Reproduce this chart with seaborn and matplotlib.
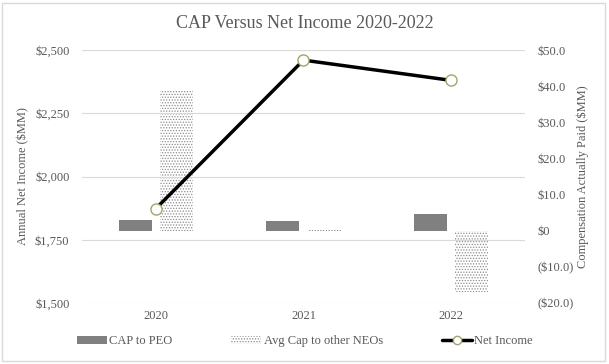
import matplotlib
matplotlib.use("Agg")
import matplotlib.pyplot as plt
import matplotlib.ticker as ticker
from matplotlib.lines import Line2D
from matplotlib.patches import Rectangle
import seaborn as sns
import pandas as pd

#%% Data
anos = ['2020', '2021', '2022']
net_income = [1873, 2460, 2380]
cap_peo = [3.0, 2.8, 4.5]
cap_neos = [38.9, 0.3, -17.0]
series_names = ['CAP to PEO', 'Avg Cap to other NEOs', 'Net Income']

df_cap = pd.DataFrame({
    'ano': anos * 2,
    'valor': cap_peo + cap_neos,
    'serie': [series_names[0]] * 3 + [series_names[1]] * 3,
})
df_ni = pd.DataFrame({'ano': anos, 'valor': net_income})

#%% Style
sns.set_style("white")
plt.rcParams['font.family'] = ['Liberation Serif', 'DejaVu Serif']
plt.rcParams['hatch.linewidth'] = 0.6
cinza_txt = '#595959'

fig = plt.figure(figsize=(6.09, 3.64), dpi=100)
ax = fig.add_axes([0.1346, 0.1676, 0.7274, 0.695])
ax2 = ax.twinx()

# bars on the right axis
sns.barplot(data=df_cap, x='ano', y='valor', hue='serie', order=anos,
            hue_order=series_names[:2], palette=['#808080', 'white'],
            width=0.56, gap=0.2, legend=False, ax=ax2, errorbar=None,
            saturation=1, linewidth=0)
for p in ax2.containers[1]:
    p.set_hatch('......')
    p.set_edgecolor('#8c8c8c')
    p.set_linewidth(0)

# line on the left axis
sns.pointplot(data=df_ni, x='ano', y='valor', order=anos, ax=ax, color='black',
              errorbar=None, markers='o', linestyles='-', linewidth=2.5,
              markersize=8, markerfacecolor='white', markeredgecolor='#a3a36b',
              markeredgewidth=1.0)

ax.set_zorder(ax2.get_zorder() + 1)
ax.patch.set_visible(False)

ax.set_ylim(1500, 2500)
ax.set_yticks([1500, 1750, 2000, 2250, 2500])
ax2.set_ylim(-20, 50)
ax2.set_yticks(range(-20, 51, 10))
ax.set_xlim(-0.5, 2.5)

ax.yaxis.set_major_formatter(ticker.FuncFormatter(lambda x, _: f'${int(x):,}'))
def fmt_dir(x, _):
    if x == 0:
        return '$0'
    if x < 0:
        return f'(${abs(x):.1f})'
    return f'${x:.1f}'
ax2.yaxis.set_major_formatter(ticker.FuncFormatter(fmt_dir))

ax.grid(axis='y', color='#d9d9d9', linewidth=0.8)
ax.grid(axis='x', visible=False)
ax2.grid(False)
for a in (ax, ax2):
    for s in a.spines.values():
        s.set_visible(False)
    a.tick_params(axis='both', length=0, labelsize=9, labelcolor=cinza_txt)
ax.tick_params(axis='y', pad=9)
ax2.tick_params(axis='y', pad=9)
ax.tick_params(axis='x', pad=5)

ax.set_xlabel('')
ax2.set_xlabel('')
ax.set_ylabel('Annual Net Income ($MM)', fontsize=9, color=cinza_txt, labelpad=4)
ax2.set_ylabel('Compensation Actually Paid ($MM)', fontsize=9, color=cinza_txt,
               rotation=90, labelpad=2)

fig.text(0.5, 0.935, 'CAP Versus Net Income 2020-2022', ha='center', va='center',
         fontsize=13, color=cinza_txt)

# legend
handles = [Rectangle((0, 0), 1, 1, facecolor='#808080', linewidth=0),
           Rectangle((0, 0), 1, 1, facecolor='white', edgecolor='#8c8c8c',
                     hatch='......', linewidth=0),
           Line2D([0], [0], color='black', linewidth=2.5, marker='o', markersize=6,
                  markerfacecolor='white', markeredgecolor='#a3a36b')]
leg = fig.legend(handles, series_names, loc='center', bbox_to_anchor=(0.5, 0.063),
                 ncol=3, frameon=False, fontsize=9, columnspacing=4.7,
                 handlelength=2.4, handletextpad=0.2, handleheight=0.6)
for t in leg.get_texts():
    t.set_color(cinza_txt)

fig.patches.append(Rectangle((0.004, 0.008), 0.99, 0.985, transform=fig.transFigure,
                             fill=False, edgecolor='#d9d9d9', linewidth=1))

fig.savefig('out.png', dpi=100)
